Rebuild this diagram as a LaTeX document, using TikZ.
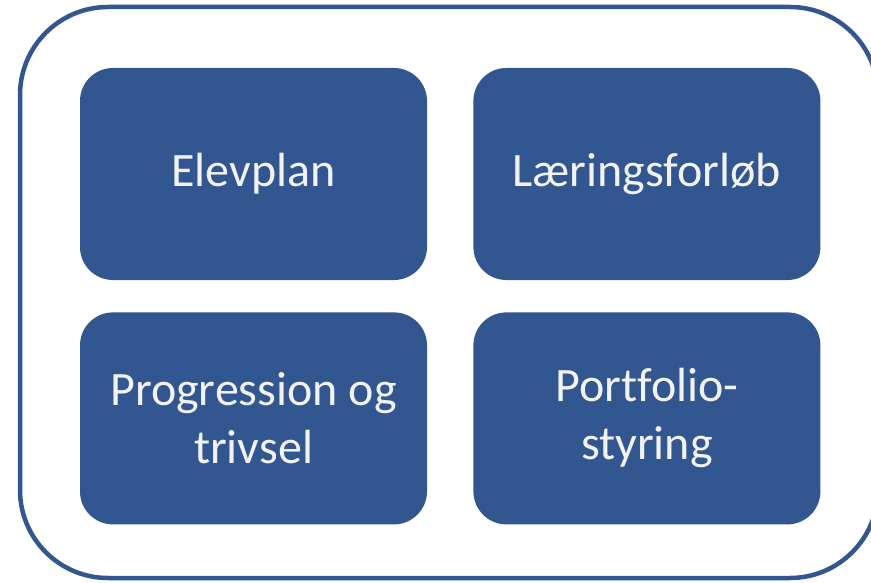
\documentclass[tikz,border=0pt]{standalone}
\usepackage{fontspec}
\setmainfont[Ligatures=NoCommon]{Carlito}
\usepackage{tikz}
\usetikzlibrary{calc,positioning}
\definecolor{boxblue}{RGB}{50,86,144}
\definecolor{boxtext}{RGB}{242,242,242}

\begin{document}
\begin{tikzpicture}[x=1pt,y=-1pt,node distance=46pt,
    part/.style={fill=boxblue,text=boxtext,rounded corners=33pt,
        minimum width=347pt,minimum height=212pt,inner sep=0pt,
        align=center,font=\fontsize{48}{58}\selectfont}]

    \useasboundingbox (0,0) rectangle (871,583);
    \draw[boxblue,line width=4.5pt,rounded corners=88pt] (20,7) rectangle (878,578);

    \node[part] (elevplan) at (253.5,174) {Elevplan};
    \node[part] (forloeb)  [right=of elevplan] {Læringsforløb};
    \node[part] (trivsel)  [below=32pt of elevplan] {Progression og\\trivsel};
    \node[part] (portfolio) [below=32pt of forloeb] {Portfolio-\\styring};

\end{tikzpicture}
\end{document}
